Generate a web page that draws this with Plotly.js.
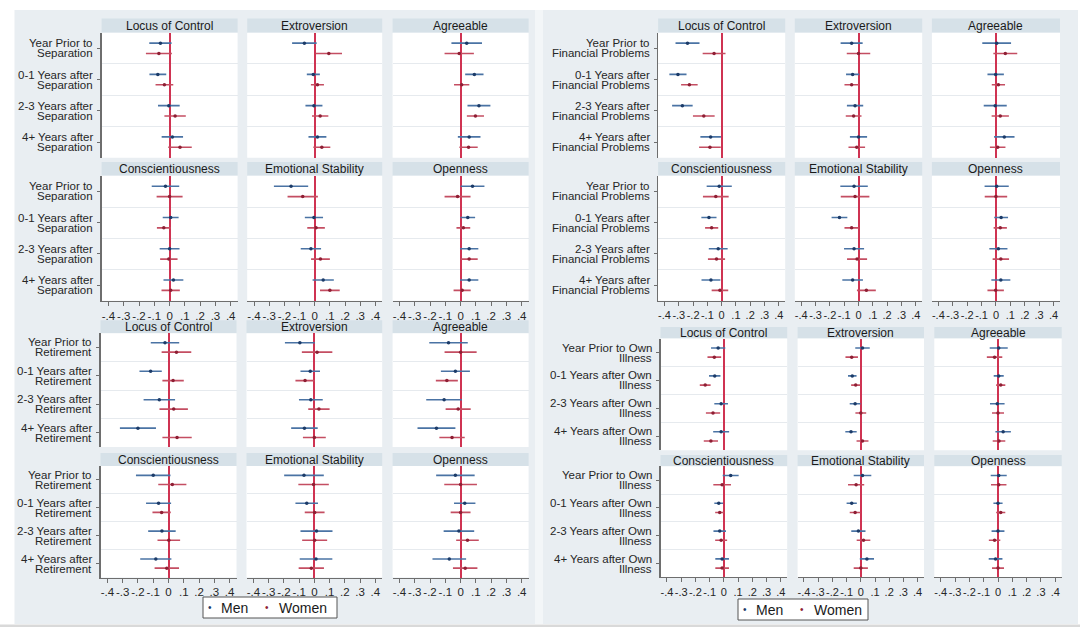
<!DOCTYPE html>
<html><head><meta charset="utf-8">
<script src="https://cdn.plot.ly/plotly-3.0.1.min.js"></script>
<style>html,body{margin:0;padding:0;background:#fff;} #chart{width:1080px;height:627px;}</style>
</head><body><div id="chart"></div>
<script>
const W = 1080, H = 627;

const traits = ["Locus of Control", "Extroversion", "Agreeable", "Conscientiousness", "Emotional Stability", "Openness"];
const xTickVals = [-0.4, -0.3, -0.2, -0.1, 0, 0.1, 0.2, 0.3, 0.4];
const xTickText = ["-.4", "-.3", "-.2", "-.1", "0", ".1", ".2", ".3", ".4"];

const catSep = [["Year Prior to", "Separation"], ["0-1 Years after", "Separation"], ["2-3 Years after", "Separation"], ["4+ Years after", "Separation"]];
const catFin = [["Year Prior to", "Financial Problems"], ["0-1 Years after", "Financial Problems"], ["2-3 Years after", "Financial Problems"], ["4+ Years after", "Financial Problems"]];
const catRet = [["Year Prior to", "Retirement"], ["0-1 Years after", "Retirement"], ["2-3 Years after", "Retirement"], ["4+ Years after", "Retirement"]];
const catIll = [["Year Prior to Own", "Illness"], ["0-1 Years after Own", "Illness"], ["2-3 Years after Own", "Illness"], ["4+ Years after Own", "Illness"]];

// rows = traits, columns = periods (Year prior, 0-1, 2-3, 4+); HW = half width of CI
const sepMenEst = [[-0.06, -0.077, -0.005, 0.018], [-0.068, -0.009, -0.005, 0.018], [0.04, 0.09, 0.12, 0.056], [-0.027, 0.007, 0.0, 0.025], [-0.156, -0.005, -0.025, 0.056], [0.078, 0.047, 0.056, 0.056]];
const sepMenHW = [[0.073, 0.055, 0.071, 0.07], [0.081, 0.043, 0.056, 0.059], [0.1, 0.06, 0.075, 0.074], [0.09, 0.052, 0.065, 0.065], [0.113, 0.06, 0.067, 0.07], [0.078, 0.048, 0.06, 0.06]];
const sepWomenEst = [[-0.07, -0.034, 0.036, 0.068], [0.093, 0.018, 0.036, 0.047], [-0.009, 0.007, 0.097, 0.052], [0.0, -0.038, -0.005, 0.007], [-0.079, 0.009, 0.038, 0.1], [-0.02, 0.018, 0.056, 0.01]];
const sepWomenHW = [[0.085, 0.058, 0.07, 0.077], [0.087, 0.043, 0.054, 0.056], [0.096, 0.05, 0.056, 0.06], [0.085, 0.045, 0.057, 0.06], [0.1, 0.058, 0.062, 0.065], [0.085, 0.045, 0.056, 0.056]];

const finMenEst = [[-0.239, -0.306, -0.275, -0.077], [-0.048, -0.041, -0.024, 0.0], [0.005, -0.002, -0.005, 0.058], [-0.017, -0.089, -0.024, -0.075], [-0.031, -0.133, -0.031, -0.041], [0.005, 0.036, 0.017, 0.034]];
const finMenHW = [[0.084, 0.06, 0.072, 0.072], [0.077, 0.046, 0.057, 0.06], [0.1, 0.057, 0.08, 0.071], [0.088, 0.053, 0.066, 0.066], [0.096, 0.055, 0.07, 0.072], [0.084, 0.048, 0.063, 0.066]];
const finWomenEst = [[-0.053, -0.226, -0.125, -0.082], [0.0, -0.048, -0.034, -0.012], [0.065, 0.017, 0.03, 0.012], [-0.041, -0.07, -0.036, -0.012], [-0.024, -0.048, -0.01, 0.055], [0.0, 0.03, 0.034, -0.002]];
const finWomenHW = [[0.08, 0.058, 0.076, 0.076], [0.082, 0.05, 0.055, 0.058], [0.083, 0.046, 0.06, 0.054], [0.09, 0.046, 0.06, 0.058], [0.1, 0.05, 0.07, 0.066], [0.078, 0.046, 0.057, 0.057]];

const retMenEst = [[-0.023, -0.117, -0.06, -0.2], [-0.095, -0.027, -0.023, -0.065], [-0.079, -0.034, -0.108, -0.158], [-0.1, -0.065, -0.043, -0.083], [-0.068, -0.05, 0.014, 0.011], [-0.034, 0.027, -0.011, -0.074]];
const retMenHW = [[0.093, 0.073, 0.103, 0.118], [0.098, 0.064, 0.078, 0.087], [0.126, 0.095, 0.117, 0.124], [0.113, 0.082, 0.09, 0.102], [0.13, 0.074, 0.105, 0.107], [0.126, 0.07, 0.1, 0.11]];
const retWomenEst = [[0.052, 0.03, 0.034, 0.056], [0.018, -0.061, 0.03, 0.0], [0.0, -0.09, -0.016, -0.056], [0.025, -0.045, 0.002, -0.011], [-0.005, 0.002, 0.002, -0.02], [0.0, 0.0, 0.045, 0.03]];
const retWomenHW = [[0.097, 0.07, 0.093, 0.096], [0.1, 0.063, 0.07, 0.075], [0.105, 0.072, 0.082, 0.083], [0.092, 0.06, 0.074, 0.08], [0.1, 0.065, 0.082, 0.083], [0.107, 0.065, 0.074, 0.08]];

const illMenEst = [[-0.04, -0.064, -0.019, -0.019], [0.012, -0.06, -0.04, -0.069], [0.005, 0.005, -0.005, 0.036], [0.048, -0.036, -0.029, -0.012], [0.012, -0.064, -0.017, 0.043], [0.005, 0.0, 0.0, -0.017]];
const illMenHW = [[0.05, 0.04, 0.048, 0.056], [0.051, 0.03, 0.038, 0.04], [0.063, 0.035, 0.051, 0.054], [0.056, 0.031, 0.044, 0.048], [0.062, 0.036, 0.05, 0.05], [0.056, 0.032, 0.045, 0.048]];
const illWomenEst = [[-0.067, -0.131, -0.076, -0.091], [-0.064, -0.036, 0.0, 0.012], [-0.024, 0.019, 0.0, 0.007], [-0.012, -0.029, -0.019, -0.012], [-0.033, -0.04, 0.019, 0.0], [0.005, 0.019, -0.024, 0.0]];
const illWomenHW = [[0.048, 0.038, 0.05, 0.05], [0.044, 0.032, 0.038, 0.042], [0.054, 0.032, 0.042, 0.044], [0.062, 0.032, 0.042, 0.048], [0.057, 0.038, 0.048, 0.05], [0.054, 0.032, 0.04, 0.042]];

const legendLabels = ["Men", "Women"];

// ---------- styling / geometry ----------
const FONT = '"Liberation Sans", Arial, Helvetica, sans-serif';
const BG = '#e9eef2', STRIP = '#d6e1e8', AXIS = '#6e6e6e', TXT = '#262626';
const MEN_LINE = '#4a73a4', MEN_DOT = '#1c3b68', WOMEN_LINE = '#c44e62', WOMEN_DOT = '#8e1f34';
const ZERO = '#cf3352';

const figures = [
  {cats: catSep, mE: sepMenEst, mH: sepMenHW, wE: sepWomenEst, wH: sepWomenHW, tf: 11.5,
   cols: [[101.6, 237.6], [247.2, 382.2], [392.6, 528.6]],
   rows: [{s0: 18.5, p0: 32.7, p1: 157.7}, {s0: 162, p0: 175.8, p1: 300.8}]},
  {cats: catFin, mE: finMenEst, mH: finMenHW, wE: finWomenEst, wH: finWomenHW, tf: 11,
   cols: [[658.1, 785.2], [794.8, 922.2], [931.9, 1060]],
   rows: [{s0: 18.5, p0: 32.7, p1: 157.7}, {s0: 162, p0: 175.8, p1: 300.8}]},
  {cats: catRet, mE: retMenEst, mH: retMenHW, wE: retWomenEst, wH: retWomenHW, tf: 11.5,
   cols: [[100.5, 236.5], [246.5, 382.2], [392.6, 528.6]],
   rows: [{s0: 320.3, p0: 333.2, p1: 447.1}, {s0: 453, p0: 466, p1: 577.5}]},
  {cats: catIll, mE: illMenEst, mH: illMenHW, wE: illWomenEst, wH: illWomenHW, tf: 11,
   cols: [[660.5, 787.2], [797.6, 924], [934.3, 1061.7]],
   rows: [{s0: 327, p0: 338.6, p1: 450.3}, {s0: 455, p0: 466.2, p1: 577.4}]}
];

const X = px => px / W;
const Y = py => 1 - py / H;

const data = [], shapes = [], annotations = [];
const layout = {
  width: W, height: H,
  margin: {l: 0, r: 0, t: 0, b: 0, pad: 0},
  paper_bgcolor: '#ffffff',
  plot_bgcolor: 'rgba(0,0,0,0)',
  showlegend: false,
  font: {family: FONT, color: TXT, size: 11}
};

function rect(x0, y0, x1, y1, fill, line) {
  return {type: 'rect', xref: 'paper', yref: 'paper', x0: X(x0), x1: X(x1), y0: Y(y1), y1: Y(y0),
          fillcolor: fill, line: line || {width: 0}, layer: 'below'};
}

// figure backgrounds
shapes.push(rect(14.5, 10, 535, 624, BG));
shapes.push(rect(535, 10, 543, 624, '#f3f6f8'));
shapes.push(rect(543, 10, 1078, 624, BG));
shapes.push(rect(0, 624.5, 1080, 627, '#d9d9d9'));

const OFF = 0.165;
let k = 0;
figures.forEach(fig => {
  const nCat = fig.cats.length;
  const yCat = fig.cats.map((c, i) => i + 1);
  fig.rows.forEach((row, ri) => {
    fig.cols.forEach((col, ci) => {
      k++;
      const t = ri * 3 + ci;
      const sx = k === 1 ? '' : String(k);
      const xr = 'x' + sx, yr = 'y' + sx;
      const isBottom = ri === fig.rows.length - 1;
      const isFirst = ci === 0;

      shapes.push(rect(col[0], row.s0, col[1], row.p0, STRIP));
      shapes.push(rect(col[0], row.p0, col[1], row.p1, '#ffffff'));

      annotations.push({text: traits[t], xref: 'paper', yref: 'paper',
        x: X((col[0] + col[1]) / 2), y: Y((row.s0 + row.p0) / 2),
        xanchor: 'center', yanchor: 'middle', showarrow: false,
        font: {family: FONT, size: 12, color: '#1a1a1a'}});

      layout['xaxis' + sx] = {
        domain: [X(col[0]), X(col[1])], anchor: yr,
        range: [-0.445, 0.445], fixedrange: true,
        tickmode: 'array', tickvals: xTickVals, ticktext: xTickText, tickangle: 0,
        showgrid: false, zeroline: true, zerolinecolor: ZERO, zerolinewidth: 2,
        showticklabels: isBottom, ticks: isBottom ? 'outside' : '', ticklen: 4, tickwidth: 1,
        tickcolor: AXIS, showline: isBottom, linecolor: AXIS, linewidth: 1,
        tickfont: {family: FONT, size: fig.tf, color: TXT}
      };
      layout['yaxis' + sx] = {
        domain: [Y(row.p1), Y(row.p0)], anchor: xr,
        range: [nCat + 0.5, 0.5], fixedrange: true,
        tickmode: 'array', tickvals: yCat, showticklabels: false,
        ticks: isFirst ? 'outside' : '', ticklen: 3, tickwidth: 1, tickcolor: AXIS,
        showline: isFirst, linecolor: AXIS, linewidth: 1.2,
        showgrid: false, zeroline: false,
        minor: {tickmode: 'array', tickvals: yCat.slice(1).map(v => v - 0.5),
                showgrid: true, gridcolor: '#e6eaee', gridwidth: 1, ticks: ''}
      };

      data.push({type: 'scatter', mode: 'markers', xaxis: xr, yaxis: yr,
        x: fig.mE[t], y: yCat.map(v => v - OFF), hoverinfo: 'skip', showlegend: false,
        marker: {size: 3.5, color: MEN_DOT},
        error_x: {type: 'data', array: fig.mH[t], symmetric: true, color: MEN_LINE, thickness: 1.6, width: 0}});
      data.push({type: 'scatter', mode: 'markers', xaxis: xr, yaxis: yr,
        x: fig.wE[t], y: yCat.map(v => v + OFF), hoverinfo: 'skip', showlegend: false,
        marker: {size: 3.5, color: WOMEN_DOT},
        error_x: {type: 'data', array: fig.wH[t], symmetric: true, color: WOMEN_LINE, thickness: 1.6, width: 0}});

      if (isFirst) {
        fig.cats.forEach((pair, i) => {
          pair.forEach((line, li) => {
            annotations.push({text: line, xref: 'paper', yref: yr,
              x: X(col[0] - 6.5), y: yCat[i], yshift: li === 0 ? 5 : -5,
              xanchor: 'right', yanchor: 'middle', showarrow: false,
              font: {family: FONT, size: 11.5, color: TXT}});
          });
        });
      }
    });
  });
});

// legends (one below each column of figures)
const legends = [{x0: 203, x1: 337, y0: 597, y1: 618}, {x0: 738, x1: 868, y0: 599, y1: 620}];
legends.forEach(lg => {
  shapes.push({type: 'rect', xref: 'paper', yref: 'paper', x0: X(lg.x0), x1: X(lg.x1), y0: Y(lg.y1), y1: Y(lg.y0),
    fillcolor: '#ffffff', line: {color: '#555555', width: 1}, layer: 'below'});
  const yc = Y((lg.y0 + lg.y1) / 2);
  const items = [{dx: 7, tx: 16, c: MEN_DOT}, {dx: 64, tx: 73.5, c: WOMEN_DOT}];
  items.forEach((it, i) => {
    annotations.push({text: '•', xref: 'paper', yref: 'paper', x: X(lg.x0 + it.dx), y: yc,
      xanchor: 'center', yanchor: 'middle', showarrow: false, font: {family: FONT, size: 10, color: it.c}});
    annotations.push({text: legendLabels[i], xref: 'paper', yref: 'paper', x: X(lg.x0 + it.tx), y: yc,
      xanchor: 'left', yanchor: 'middle', showarrow: false, font: {family: FONT, size: 14, color: '#1a1a1a'}});
  });
});

layout.shapes = shapes;
layout.annotations = annotations;

Plotly.newPlot('chart', data, layout, {staticPlot: true, displayModeBar: false});
</script>
</body></html>
